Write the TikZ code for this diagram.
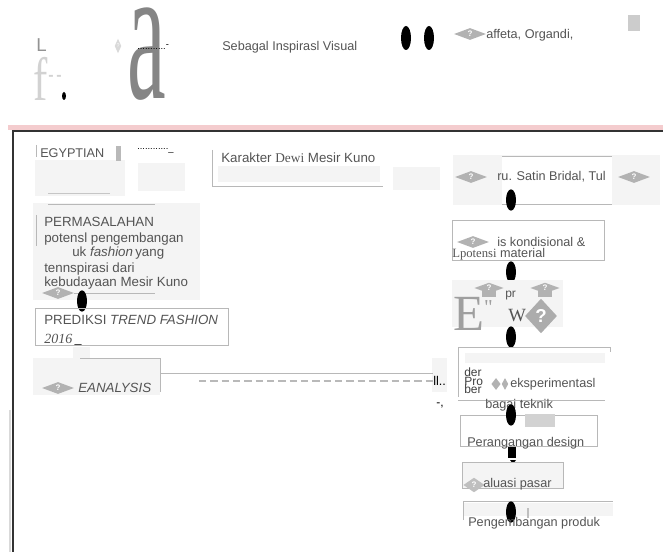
\documentclass[tikz,border=0pt]{standalone}
\usepackage{fontspec}
\setmainfont{Liberation Sans}
\newfontfamily\serifed{Liberation Serif}
\usetikzlibrary{shapes.geometric}
\definecolor{ink}{gray}{0.33}
\definecolor{ghost}{gray}{0.955}
\definecolor{rule}{gray}{0.72}
\definecolor{band}{RGB}{244,204,206}
\tikzset{
  lbl/.style={anchor=west, text=ink, inner sep=0pt, font=\fontsize{9.5}{11}\selectfont},
  qdia/.style={diamond, fill=gray!60, text=white, inner sep=0pt, minimum width=24pt, minimum height=9pt, font=\bfseries\fontsize{6}{6}\selectfont},
  blob/.style={ellipse, fill=black, inner sep=0pt, minimum width=7.5pt, minimum height=16pt},
  thin rule/.style={draw=rule, line width=0.7pt},
  haze/.style={fill=ghost}
}
\begin{document}
\begin{tikzpicture}[x=0.75pt, y=-0.75pt]
\useasboundingbox (0,0) rectangle (663,552);

% top strip
\node[lbl, text=gray!85, font=\fontsize{14}{14}\selectfont] (ltr) at (36,45) {L};
\node[anchor=south west, inner sep=0pt, text=gray!35, font=\serifed\fontsize{46}{46}\selectfont] (hook) at (33,101) {\scalebox{0.7}[1]{f}};
\node[lbl, text=gray!35, font=\bfseries\fontsize{12}{12}\selectfont] (dash0) at (48,78) {-\,-};
\node[ellipse, fill=black, inner sep=0pt, minimum width=3pt, minimum height=6pt] (dot0) at (64,96) {};
\node[diamond, fill=gray!30, text=white, inner sep=0pt, minimum width=5pt, minimum height=11pt, font=\fontsize{4}{4}\selectfont] (qsmall) at (118,46) {?};
\node[anchor=south west, inner sep=0pt, text=black!48, font=\serifed\fontsize{145}{145}\selectfont] (biga) at (127,101) {\scalebox{0.45}[1]{a}};
\node[lbl, text=black, font=\fontsize{7}{7}\selectfont] (dots0) at (137,47) {...........\raisebox{2pt}{-}};
\node[lbl] (visual) at (222,47) {Sebagal Inspirasl Visual};
\node[blob, minimum height=18pt] (e1) at (406,38) {};
\node[blob, minimum height=18pt] (e2) at (429,38) {};
\node[qdia] (q0) at (470,34) {?};
\node[lbl] (organdi) at (486,35) {affeta, Organdi,};
\fill[gray!40] (628,15) rectangle (640,31);

% frame
\fill[band] (8,125) rectangle (663,130);
\draw[black!80, line width=1.1pt] (663,131) -- (13,131) -- (13,552);
\draw[gray!30, line width=1.2pt] (10,410) -- (10,552);

% left column
\fill[haze] (35,160) rectangle (125,196);
\draw[thin rule] (36,145) -- (36,157);
\node[lbl] (egypt) at (40,153) {EGYPTIAN};
\fill[gray!55] (116,146) rectangle (121,161);
\draw[gray!45] (48,193) -- (110,193);
\node[lbl, text=black, font=\fontsize{7}{7}\selectfont] (dots1) at (137,151) {............\raisebox{-1pt}{\_}};
\fill[haze] (138,163) rectangle (185,191);

\fill[haze] (33,203) rectangle (200,300);
\draw[thin rule] (48,204) -- (155,204);
\draw[thin rule] (36,215) -- (36,246);
\node[lbl, font=\fontsize{10}{11}\selectfont] (perm) at (44,222) {PERMASALAHAN};
\node[lbl, font=\fontsize{10}{11}\selectfont] (perm2) at (44,239) {potensl pengembangan};
\node[lbl, font=\fontsize{10}{11}\selectfont] (perm3) at (72,253) {uk \textit{fashion}\,yang};
\node[lbl, font=\fontsize{10}{11}\selectfont] (perm4) at (44,269) {tennspirasi dari};
\node[lbl, font=\fontsize{10}{11}\selectfont] (perm5) at (44,283) {kebudayaan Mesir Kuno};
\node[qdia] (q5) at (58,293) {?};
\draw[thin rule] (q5.east) -- (155,293);
\node[blob] (b0) at (82,301) {};

\draw[thin rule] (35,308) rectangle (228,345);
\node[lbl, font=\fontsize{10}{11}\selectfont] (pred) at (44,320) {PREDIKSI \textit{TREND FASHION}};
\node[lbl, font=\serifed\itshape\fontsize{10.5}{11}\selectfont] (year) at (44,340) {2016\,\textcolor{black}{\_}};
\fill[haze] (73,347) rectangle (90,360);

\fill[haze] (33,358) rectangle (160,395);
\draw[thin rule] (80,358) -- (160,358) -- (160,392);
\node[qdia] (q6) at (58,388) {?};
\node[lbl, font=\itshape\fontsize{10}{11}\selectfont] (anal) at (78,388) {EANALYSIS};
\coordinate (ea) at (160,373);

% middle
\draw[thin rule] (212,150) |- (383,186);
\fill[haze] (218,166) rectangle (380,182);
\node[lbl, font=\fontsize{10}{11}\selectfont] (dewi) at (221,158) {Karakter {\serifed Dewi} Mesir Kuno};
\fill[haze] (393,167) rectangle (440,190);

\fill[haze] (432,358) rectangle (447,392);
\node[lbl, text=black, font=\fontsize{9.5}{10}\selectfont] (bars) at (433,381) {ll..};
\node[lbl, text=black, font=\fontsize{9}{10}\selectfont] (tick) at (436,405) {-,};
\draw[thin rule] (ea) -- (bars.west |- ea);
\draw[gray!55, line width=2pt, dash pattern=on 5.5pt off 3pt] (199,381) -- (bars.west);

% right column
\fill[haze] (453,155) rectangle (660,205);
\fill[white] (502,156) rectangle (612,204);
\draw[thin rule] (502,156) -- (612,156) (502,204) -- (612,204);
\node[qdia] (q1) at (471,177) {?};
\node[lbl] (satin) at (497,177) {ru. Satin Bridal, Tul};
\node[qdia] (q2) at (634,177) {?};
\node[blob] (b1) at (511,200) {};

\draw[thin rule] (452,220) rectangle (604,260);
\node[qdia] (q3) at (473,242) {?};
\node[lbl] (kond) at (497,242) {is kondisional \&};
\node[lbl] (mat) at (452,254) {{\serifed Lpotensi} material};
\node[blob] (b2) at (511,272) {};

\fill[haze] (452,280) rectangle (563,327);
\node[anchor=south west, inner sep=0pt, text=gray!75, font=\serifed\fontsize{38}{38}\selectfont] (bige) at (453,331) {E\raisebox{12pt}{\fontsize{16}{16}\selectfont"}};
\node[qdia, minimum width=22pt, minimum height=8pt] (cap1) at (489,288) {?};
\fill[gray!60] (482,290) rectangle (496,297);
\node[qdia, minimum width=22pt, minimum height=8pt] (cap2) at (545,288) {?};
\fill[gray!60] (538,290) rectangle (552,297);
\node[lbl, font=\fontsize{9}{10}\selectfont] (pr) at (505,296) {pr};
\node[lbl, font=\serifed\fontsize{14}{14}\selectfont] (ww) at (508,316) {W};
\node[diamond, fill=gray!65, text=white, inner sep=0pt, minimum width=24pt, minimum height=26pt, font=\bfseries\fontsize{14}{14}\selectfont] (qbig) at (541,316) {?};
\node[blob] (b3) at (511,337) {};

\draw[thin rule] (458,397) -- (458,347) -- (610,347) -- (610,352);
\draw[thin rule] (458,400) -- (605,400);
\fill[haze] (465,353) rectangle (605,363);
\node[lbl, text=black!75, font=\fontsize{9}{6}\selectfont, align=left] (dpb) at (464,381) {der\\[-1pt]Pro\\[-1pt]ber};
\node[diamond, fill=gray!60, inner sep=0pt, minimum width=7pt, minimum height=9pt] (d1) at (496,384) {};
\node[diamond, fill=gray!60, inner sep=0pt, minimum width=5pt, minimum height=9pt] (d2) at (505,384) {};
\node[lbl] (eksp) at (510,384) {eksperimentasl};
\node[lbl] (tekn) at (485,405) {bagai teknik};

\draw[thin rule] (460,415) rectangle (597,446);
\fill[gray!35] (525,414) rectangle (555,427);
\node[blob] (b4) at (511,415) {};
\node[lbl] (desg) at (467,443) {Perangangan design};
\fill[black] (508,447) rectangle (516,458);
\fill[black] (510,460) -- (516,460) -- (513,464) -- cycle;

\fill[haze] (462,462) rectangle (563,488);
\draw[thin rule] (462,462) rectangle (563,488);
\node[diamond, fill=gray!50, text=white, inner sep=0pt, minimum width=16pt, minimum height=11pt, font=\bfseries\fontsize{6}{6}\selectfont] (q7) at (474,485) {?};
\node[lbl] (pasar) at (483,484) {aluasi pasar};

\fill[haze] (463,503) rectangle (613,516);
\draw[thin rule] (463,520) |- (613,501);
\node[blob] (b5) at (511,512) {};
\draw[gray!50, line width=1pt] (528,508) -- (528,518);
\node[lbl] (prod) at (468,523) {Pengembangan produk};
\end{tikzpicture}
\end{document}
